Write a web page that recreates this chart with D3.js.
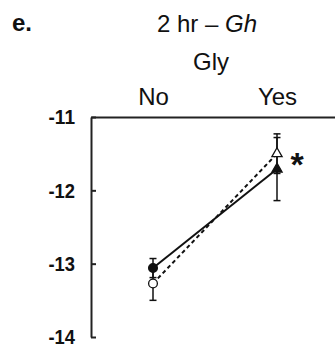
<!DOCTYPE html>
<html>
<head>
<meta charset="utf-8">
<script src="https://cdn.jsdelivr.net/npm/d3@7"></script>
<style>
  html, body { margin: 0; padding: 0; background: #fff; }
  svg { display: block; font-family: "Liberation Sans", Arial, sans-serif; }
</style>
</head>
<body>
<svg id="chart" width="335" height="360"></svg>
<script>
// Glycine groups on the category axis
const categories = ["No", "Yes"];
// Filled markers (solid line) and open markers (dashed line): means and error half-widths
const filledMeans = [-13.06, -11.71];
const filledErrors = [0.13, 0.43];
const openMeans = [-13.27, -11.50];
const openErrors = [0.23, 0.27];
const yTicks = [-14, -13, -12, -11];

const svg = d3.select("#chart");

const y = d3.scaleLinear().domain([-14, -11]).range([337, 117]);
const x = d3.scalePoint().domain(categories).range([91, 339]).padding(0.5);

// Panel letter and titles
svg.append("text").attr("x", 12).attr("y", 31)
  .attr("font-size", 24).attr("font-weight", "bold").attr("fill", "#111").text("e.");

const title = svg.append("text").attr("x", 207).attr("y", 32)
  .attr("text-anchor", "middle").attr("font-size", 24).attr("fill", "#111");
title.append("tspan").text("2 hr \u2013 ");
title.append("tspan").attr("font-style", "italic").text("Gh");

svg.append("text").attr("x", 211).attr("y", 70)
  .attr("text-anchor", "middle").attr("font-size", 24).attr("fill", "#111").text("Gly");

// Y axis on the left, ticks pointing inward; labels drawn tall and narrow
const yAxis = svg.append("g").attr("transform", "translate(91,0)")
  .call(d3.axisLeft(y).tickValues(yTicks).tickFormat(d => String(d))
    .tickSizeInner(-5).tickSizeOuter(0).tickPadding(16));
yAxis.select(".domain").attr("stroke", "#222").attr("stroke-width", 2);
yAxis.selectAll(".tick line").attr("stroke", "#222").attr("stroke-width", 2);
yAxis.selectAll(".tick text").attr("font-size", 21).attr("font-weight", "bold")
  .attr("fill", "#111").attr("font-family", "'Liberation Sans', Arial, sans-serif")
  .attr("textLength", 26.5).attr("lengthAdjust", "spacingAndGlyphs");

// Category axis along the top
const xAxis = svg.append("g").attr("transform", `translate(0,${y(-11)})`)
  .call(d3.axisTop(x).tickSize(0).tickPadding(12));
xAxis.select(".domain").attr("stroke", "#222").attr("stroke-width", 2);
xAxis.selectAll(".tick text").attr("font-size", 24).attr("fill", "#111")
  .attr("font-family", "'Liberation Sans', Arial, sans-serif");

// Connecting lines
const line = d3.line().x((d, i) => x(categories[i])).y(d => y(d));
svg.append("path").datum(openMeans).attr("d", line)
  .attr("fill", "none").attr("stroke", "#111").attr("stroke-width", 2)
  .attr("stroke-dasharray", "4,3");
svg.append("path").datum(filledMeans).attr("d", line)
  .attr("fill", "none").attr("stroke", "#111").attr("stroke-width", 2);

// Error bars
function errorBars(means, errs) {
  means.forEach((m, i) => {
    const cx = x(categories[i]);
    const g = svg.append("g").attr("stroke", "#111").attr("stroke-width", 1.5);
    g.append("line").attr("x1", cx).attr("x2", cx).attr("y1", y(m - errs[i])).attr("y2", y(m + errs[i]));
    [m - errs[i], m + errs[i]].forEach(v => {
      g.append("line").attr("x1", cx - 3.5).attr("x2", cx + 3.5).attr("y1", y(v)).attr("y2", y(v));
    });
  });
}
errorBars(openMeans, openErrors);
errorBars(filledMeans, filledErrors);

// Markers: circles for "No", triangles for "Yes"
function marker(cat, v, filled) {
  const cx = x(cat), cy = y(v);
  const sym = cat === "No" ? d3.symbolCircle : d3.symbolTriangle;
  const size = cat === "No" ? 60 : 45;
  svg.append("path").attr("d", d3.symbol().type(sym).size(size)())
    .attr("transform", `translate(${cx},${cy})`)
    .attr("fill", filled ? "#111" : "#fff").attr("stroke", "#111").attr("stroke-width", 1.3);
}
categories.forEach((c, i) => marker(c, openMeans[i], false));
categories.forEach((c, i) => marker(c, filledMeans[i], true));

// Significance mark
svg.append("text").attr("x", x("Yes") + 20).attr("y", 176)
  .attr("text-anchor", "middle").attr("font-size", 34).attr("font-weight", "bold")
  .attr("fill", "#111").text("*");
</script>
</body>
</html>
